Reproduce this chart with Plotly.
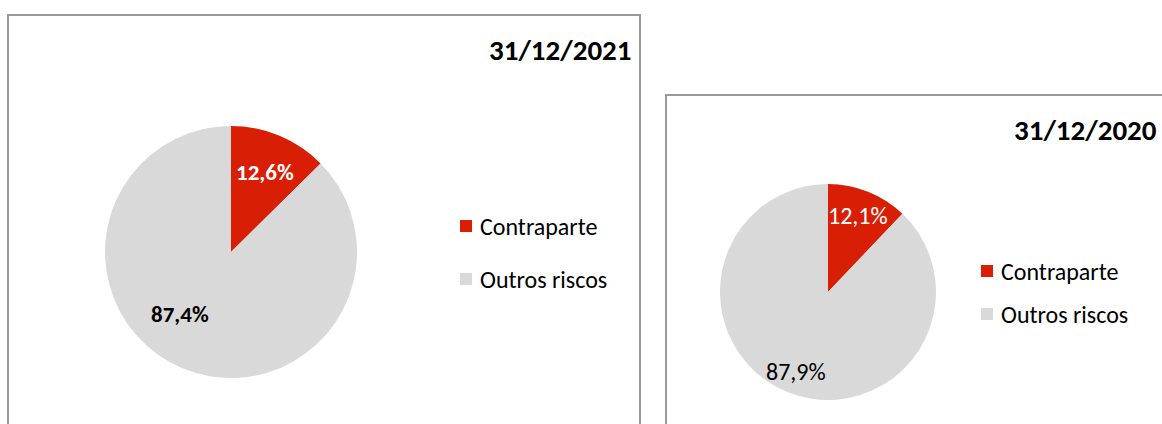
import math
import plotly.graph_objects as go

# ---- data ----
categories = ["Contraparte", "Outros riscos"]
values_2021 = [12.6, 87.4]
values_2020 = [12.1, 87.9]
labels_2021 = ["12,6%", "87,4%"]
labels_2020 = ["12,1%", "87,9%"]
titles = ["31/12/2021", "31/12/2020"]
colors = ["#D81E05", "#D9D9D9"]

W, H = 1162, 424
FONT = "Carlito, Calibri, Lato, sans-serif"

def px(x):
    return x / W

def py(y):
    return 1 - y / H

panels = [
    dict(values=values_2021, labels=labels_2021, title=titles[0],
         cx=231, cy=252, r=126, bold=True, lab_size=23,
         lab_rfrac=[0.69, 0.64], lab_shift=[0, 17], lab_colors=["white", "black"],
         title_x=634, title_y=50, title_anchor="right",
         leg_x=460, leg_y=[226, 279], box=(8, 15, 640, 470)),
    dict(values=values_2020, labels=labels_2020, title=titles[1],
         cx=828, cy=292, r=108, bold=False, lab_size=24,
         lab_rfrac=[0.76, 0.79], lab_shift=[0, 0], lab_colors=["white", "black"],
         title_x=1159, title_y=130, title_anchor="right",
         leg_x=981, leg_y=[271, 314], box=(666, 95, 1250, 470)),
]

fig = go.Figure()
shapes = []
annotations = []

for p in panels:
    cx, cy, r = p["cx"], p["cy"], p["r"]
    fig.add_trace(go.Pie(
        labels=categories, values=p["values"], sort=False, direction="clockwise",
        rotation=0, textinfo="none", hoverinfo="label+percent",
        marker=dict(colors=colors, line=dict(width=0)), showlegend=False,
        domain=dict(x=[px(cx - r), px(cx + r)], y=[py(cy + r), py(cy - r)]),
    ))
    # slice labels placed from the data's cumulative angles
    total = sum(p["values"])
    cum = 0
    for i, v in enumerate(p["values"]):
        mid = (cum + v / 2) / total * 360 + p["lab_shift"][i]
        cum += v
        rr = r * p["lab_rfrac"][i]
        lx = cx + rr * math.sin(math.radians(mid))
        ly = cy - rr * math.cos(math.radians(mid))
        txt = p["labels"][i]
        if p["bold"]:
            txt = "<b>" + txt + "</b>"
        annotations.append(dict(x=px(lx), y=py(ly), xref="paper", yref="paper",
                                text=txt, showarrow=False, xanchor="center", yanchor="middle",
                                font=dict(family=FONT, size=p["lab_size"], color=p["lab_colors"][i])))
    # title
    annotations.append(dict(x=px(p["title_x"]), y=py(p["title_y"]), xref="paper", yref="paper",
                            text="<b>" + p["title"] + "</b>", showarrow=False,
                            xanchor=p["title_anchor"], yanchor="middle",
                            font=dict(family=FONT, size=29, color="black")))
    # legend
    for i, cat in enumerate(categories):
        ly = p["leg_y"][i]
        shapes.append(dict(type="rect", xref="paper", yref="paper",
                           x0=px(p["leg_x"]), x1=px(p["leg_x"] + 12),
                           y0=py(ly + 6), y1=py(ly - 6),
                           fillcolor=colors[i], line=dict(width=0)))
        annotations.append(dict(x=px(p["leg_x"] + 18), y=py(ly), xref="paper", yref="paper",
                                text=cat, showarrow=False, xanchor="left", yanchor="middle",
                                font=dict(family=FONT, size=24, color="black")))
    # panel border
    x0, y0, x1, y1 = p["box"]
    shapes.append(dict(type="rect", xref="paper", yref="paper",
                       x0=px(x0), x1=px(x1), y0=py(y1), y1=py(y0),
                       line=dict(color="#9A9A9A", width=2), fillcolor="rgba(0,0,0,0)"))

fig.update_layout(
    width=W, height=H, margin=dict(l=0, r=0, t=0, b=0),
    paper_bgcolor="white", plot_bgcolor="white",
    shapes=shapes, annotations=annotations, showlegend=False,
)

fig.write_html("out.html", config={"displayModeBar": False},
               post_script="document.body.style.margin='0';document.body.style.overflow='hidden';")
